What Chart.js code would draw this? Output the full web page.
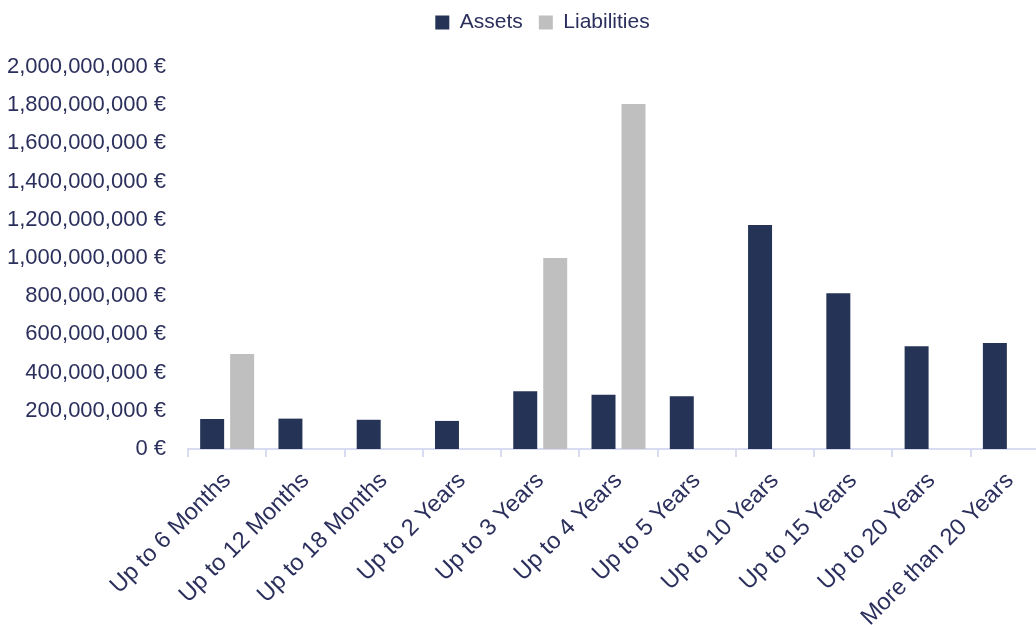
<!DOCTYPE html>
<html>
<head>
<meta charset="utf-8">
<script src="https://cdn.jsdelivr.net/npm/chart.js@4"></script>
<style>
  html, body { margin: 0; padding: 0; background: #fff; overflow: hidden; }
</style>
</head>
<body>
<canvas id="chart" width="1049" height="625"></canvas>
<script>
const categories = [
  'Up to 6 Months', 'Up to 12 Months', 'Up to 18 Months', 'Up to 2 Years',
  'Up to 3 Years', 'Up to 4 Years', 'Up to 5 Years', 'Up to 10 Years',
  'Up to 15 Years', 'Up to 20 Years', 'More than 20 Years'
]
const assets = [157e6, 159e6, 153e6, 147e6, 302e6, 284e6, 276e6, 1173e6, 815e6, 538e6, 555e6]
const liabilities = [497e6, null, null, null, 1000e6, 1806e6, null, null, null, null, null]
const yTicks = [0, 2e8, 4e8, 6e8, 8e8, 1e9, 1.2e9, 1.4e9, 1.6e9, 1.8e9, 2e9]

const textColor = '#2b2f5c'
const axisColor = '#d9dbf0'
const family = '"Liberation Sans", Arial, sans-serif'

// keep the legend strip tall enough so the plot starts lower, and nudge it
const legendPlace = {
  id: 'legendPlace',
  beforeLayout(chart) {
    const lg = chart.legend
    if (!lg || lg._patched) return
    const fit = lg.fit
    lg.fit = function () { fit.call(this); this.height = 67 }
    lg._patched = true
  },
  afterLayout(chart) {
    const lg = chart.legend
    lg.left += 18; lg.right += 18
    lg.top -= 4; lg.bottom -= 4
  }
}

new Chart(document.getElementById('chart'), {
  type: 'bar',
  data: {
    labels: categories,
    datasets: [
      { label: 'Assets', data: assets, backgroundColor: '#253357', borderWidth: 0 },
      { label: 'Liabilities', data: liabilities, backgroundColor: '#bfbfbf', borderWidth: 0 },
    ]
  },
  plugins: [legendPlace],
  options: {
    responsive: false,
    animation: false,
    layout: { padding: 0 },
    datasets: { bar: { categoryPercentage: 0.766, barPercentage: 0.8 } },
    plugins: {
      tooltip: { enabled: false },
      legend: {
        position: 'top',
        labels: {
          color: textColor,
          font: { family, size: 21 },
          boxWidth: 14,
          boxHeight: 14,
          padding: 16,
        }
      }
    },
    scales: {
      x: {
        grid: {
          offset: true,
          drawOnChartArea: false,
          drawTicks: true,
          tickLength: 8,
          color: axisColor,
          lineWidth: 2,
        },
        border: { color: axisColor, width: 2 },
        ticks: {
          color: textColor,
          font: { family, size: 23.5 },
          maxRotation: 45,
          minRotation: 45,
          autoSkip: false,
          padding: 10,
        },
        afterFit: s => { s.height = 176 }
      },
      y: {
        min: 0,
        max: 2e9,
        grid: { display: false, drawTicks: false },
        border: { display: false },
        afterBuildTicks: s => { s.ticks = yTicks.map(v => ({ value: v })) },
        ticks: {
          color: textColor,
          font: { family, size: 22 },
          padding: 22,
          callback: v => v.toLocaleString('en-US') + ' €'
        },
        afterFit: s => { s.width = 188 }
      }
    }
  }
})
</script>
</body>
</html>
